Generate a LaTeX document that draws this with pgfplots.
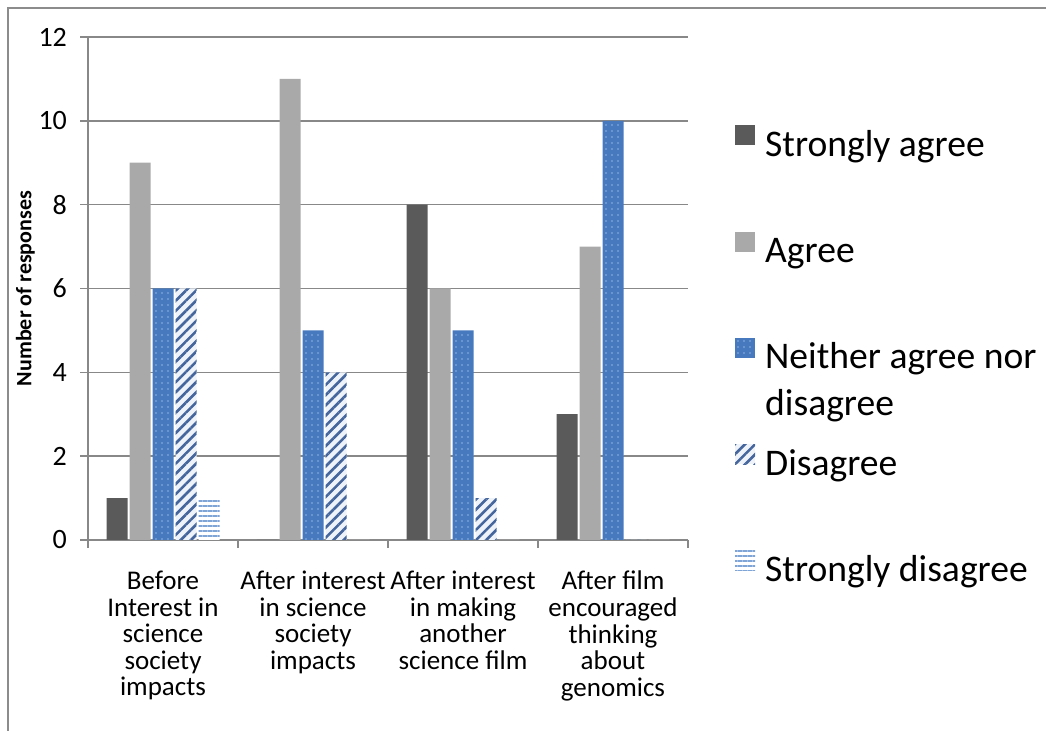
\documentclass[border=0pt]{standalone}
\usepackage{pgfplots}
\pgfplotsset{compat=1.18}
\usepackage{pgfplotstable}
\usepackage{fontspec}
\setmainfont{Carlito}
\usetikzlibrary{patterns.meta}
\definecolor{sagray}{HTML}{5A5A5A}
\definecolor{agray}{HTML}{A9A9A9}
\definecolor{nblue}{HTML}{4679BE}
\definecolor{ndot}{HTML}{8FB2E0}
\definecolor{dstripe}{HTML}{44669C}
\definecolor{dback}{HTML}{EEF3FA}
\definecolor{sdline}{HTML}{7FA4D6}
\definecolor{gridc}{HTML}{888888}
\definecolor{framec}{HTML}{8C8C8C}

\pgfplotstableread{
x y
0 1
1 0
2 8
3 3
}\tsa
\pgfplotstableread{
x y
0 9
1 11
2 6
3 7
}\ta
\pgfplotstableread{
x y
0 6
1 5
2 5
3 10
}\tn
\pgfplotstableread{
x y
0 6
1 4
2 1
3 0
}\td
\pgfplotstableread{
x y
0 1
1 0
2 0
3 0
}\tsd

\begin{document}
\begin{tikzpicture}
\path[use as bounding box] (0,0) rectangle (523pt,365.5pt);
\draw[framec, line width=0.8pt] (4pt,0) -- (4pt,361.5pt) -- (523pt,361.5pt);
\begin{axis}[
  at={(44pt,95.5pt)}, anchor=south west,
  scale only axis, width=300pt, height=251.5pt,
  ybar=1pt, bar width=10.5pt,
  xmin=-0.5, xmax=3.5, ymin=0, ymax=12,
  ytick={0,2,...,12},
  xtick={-0.5,0.5,1.5,2.5,3.5},
  x tick label as interval,
  xticklabels={{Before\\Interest in\\science\\society\\impacts},
               {After interest\\in science\\society\\impacts},
               {After interest\\in making\\another\\science film},
               {After film\\encouraged\\thinking\\about\\genomics}},
  axis x line*=bottom, axis y line*=left,
  axis line style={draw=gridc, line width=0.8pt, -},
  ymajorgrids, major grid style={draw=gridc, line width=0.8pt},
  tick style={draw=gridc, line width=0.8pt},
  major tick length=4pt, tick align=outside,
  /pgf/number format/assume math mode=true,
  yticklabel style={font=\fontsize{14}{16}\selectfont, xshift=-3pt},
  xticklabel style={align=center, font=\fontsize{13.5}{13.3}\selectfont, yshift=-8pt},
  ylabel={Number of responses},
  ylabel style={font=\fontsize{11}{12}\bfseries, yshift=-5pt},
  legend style={at={(1.078,0.825)}, anchor=north west, draw=none, fill=none,
    inner sep=0pt, font=\fontsize{18.8}{23.5}\selectfont, row sep=33.6pt,
    nodes={text height=14pt, text depth=4pt, inner ysep=0pt, inner xsep=5pt}},
  legend cell align=left,
  legend image code/.code={\path[#1, draw=none] (0pt,0.5pt) rectangle (10pt,10.5pt);},
]
\addplot[fill=sagray, draw=none] table[x=x,y=y] {\tsa};
\addlegendentry{Strongly agree}
\addplot[fill=agray, draw=none] table[x=x,y=y] {\ta};
\addlegendentry{Agree}
\addplot[fill=nblue, draw=none, postaction={pattern={Dots[distance=3pt, radius=0.45pt]}, pattern color=ndot}] table[x=x,y=y] {\tn};
\addlegendentry{\raisebox{0pt}[\height][0pt]{\begin{tabular}[t]{@{}l@{}}Neither agree nor\\disagree\end{tabular}}}
\addplot[fill=dback, draw=none, postaction={pattern={Lines[angle=45, distance=3.6pt, line width=1.3pt]}, pattern color=dstripe}] table[x=x,y=y] {\td};
\addlegendentry{Disagree}
\addplot[fill=white, draw=none, postaction={pattern={Lines[angle=0, distance=2.5pt, line width=0.9pt]}, pattern color=sdline}] table[x=x,y=y] {\tsd};
\addlegendentry{Strongly disagree}
\end{axis}
\end{tikzpicture}
\end{document}
